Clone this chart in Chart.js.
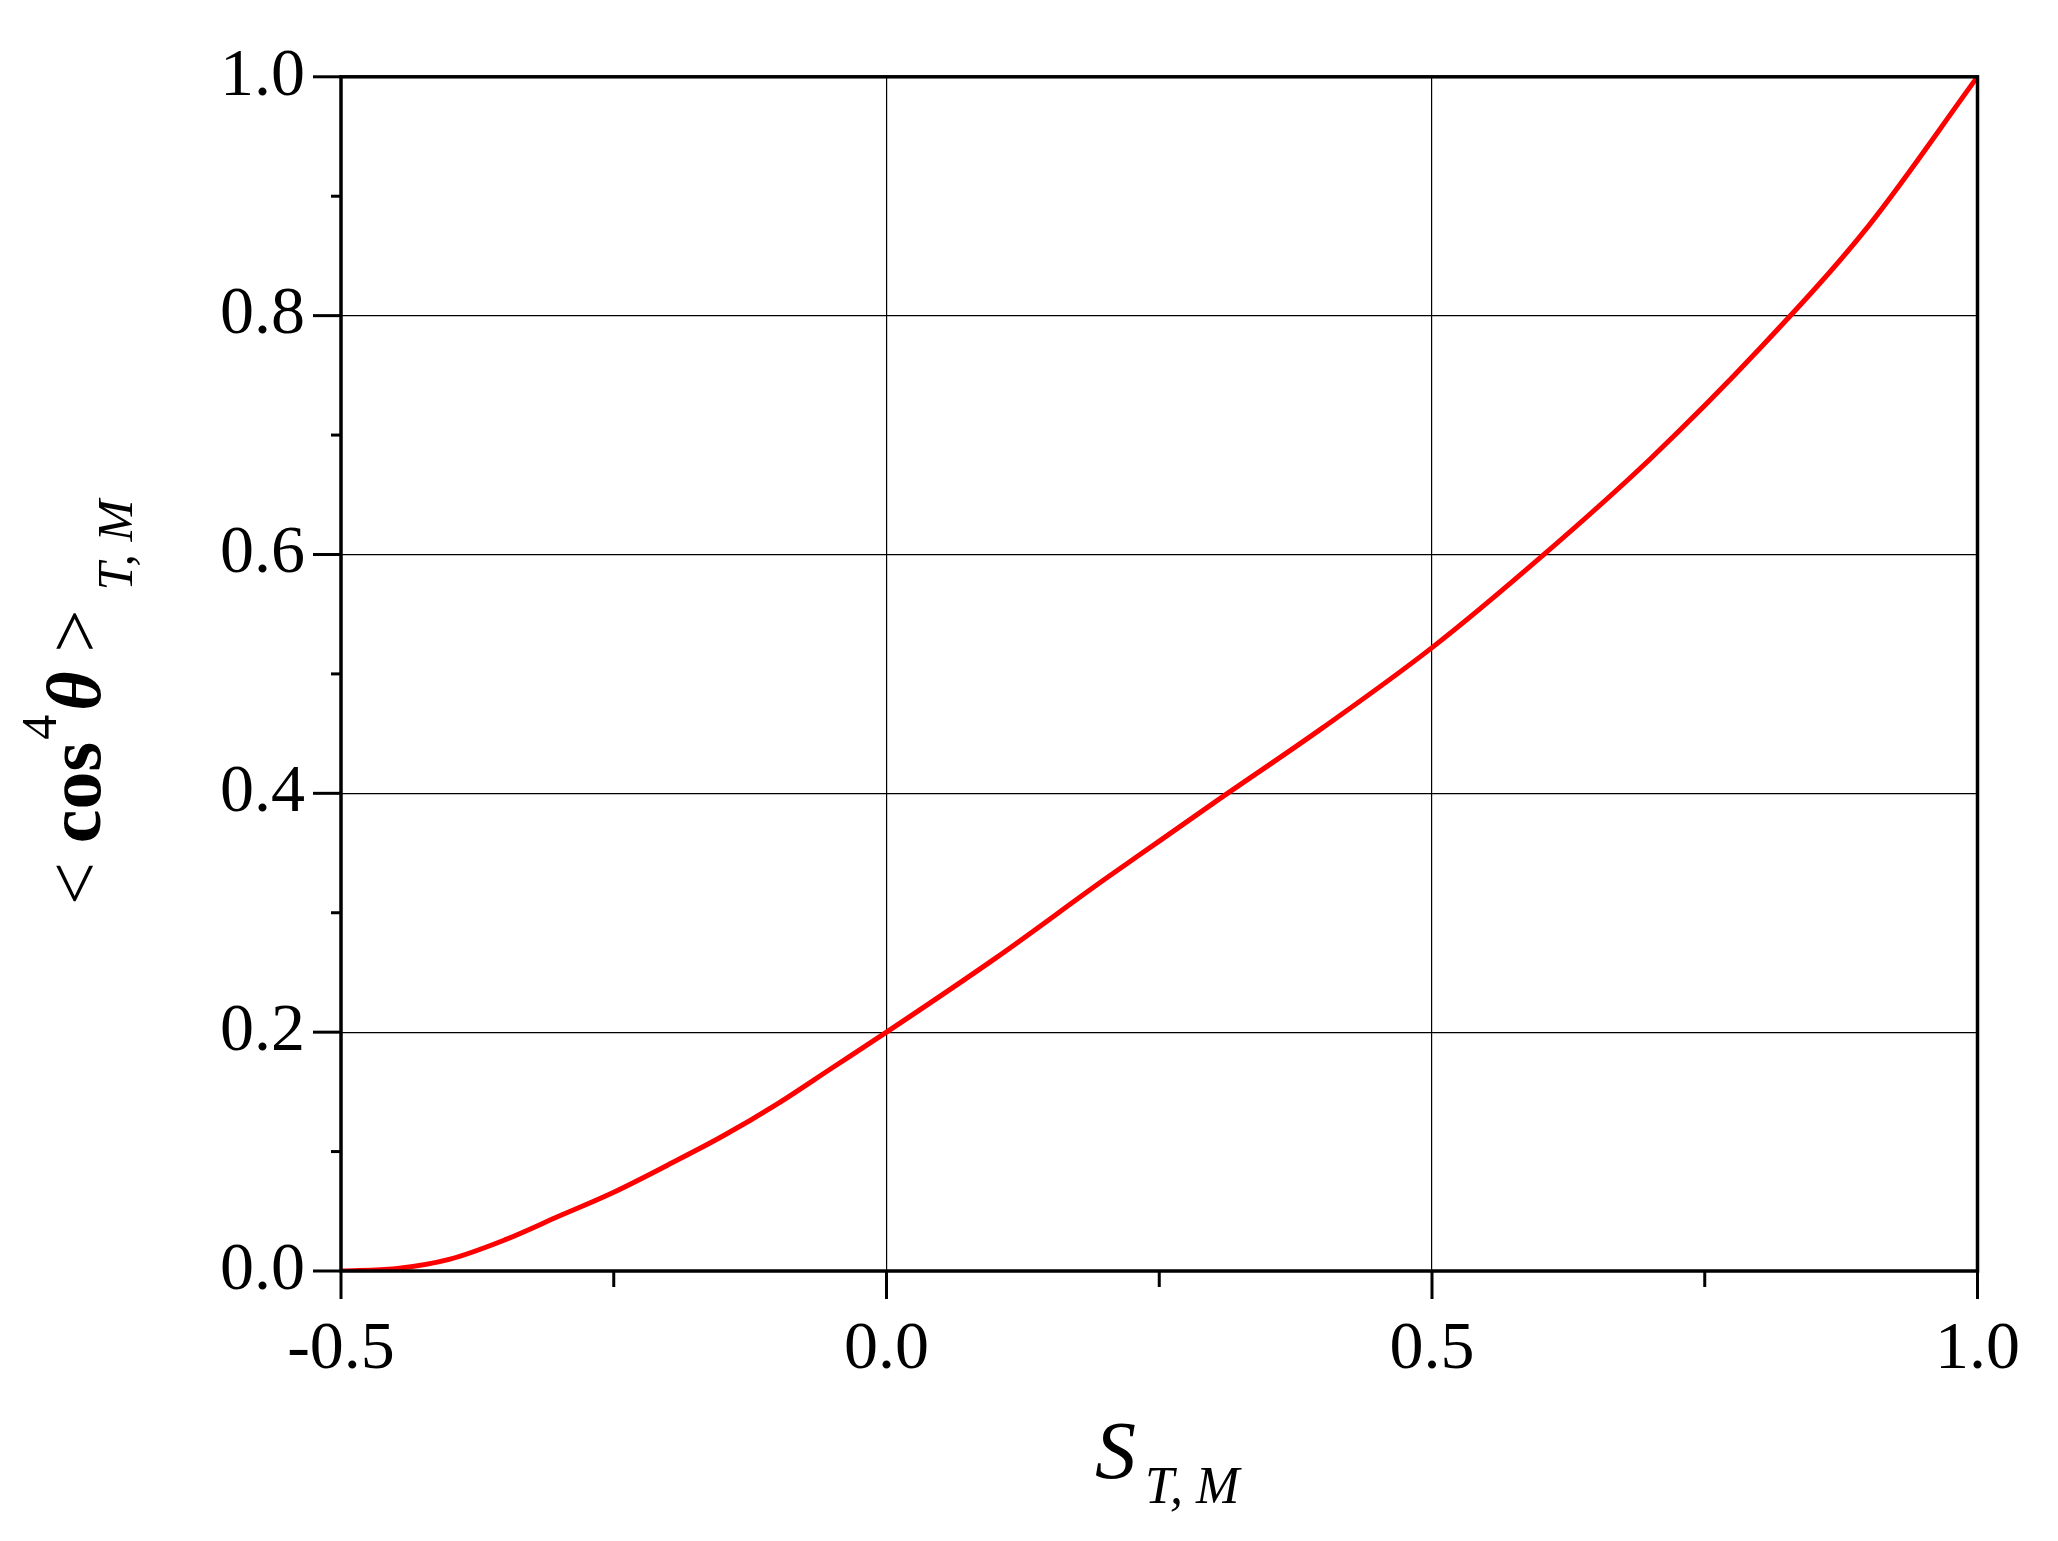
<!DOCTYPE html>
<html><head><meta charset="utf-8">
<script src="https://cdn.jsdelivr.net/npm/chart.js@4"></script>
<style>html,body{margin:0;padding:0;background:#fff}#w{width:2058px;height:1541px}</style>
</head><body><div id="w"><canvas id="c" width="2058" height="1541"></canvas></div>
<script>
const sValues = [-0.5,-0.45,-0.4,-0.35,-0.3,-0.25,-0.2,-0.15,-0.1,-0.05,0,0.1,0.2,0.25,0.3,0.4,0.5,0.6,0.7,0.8,0.9,1.0];
const cos4Values = [0,0.002,0.01,0.026,0.046,0.066,0.089,0.113,0.14,0.17,0.2,0.262,0.328,0.36,0.392,0.455,0.522,0.598,0.68,0.772,0.875,1.0];
const xTickLabels = ['-0.5','0.0','0.5','1.0'];
const yTickLabels = ['0.0','0.2','0.4','0.6','0.8','1.0'];
const F = '"Liberation Serif", "Times New Roman", serif';
const B=1271, L=341;
const deco = {
  id:'deco',
  afterDraw(ch){
    const c=ch.ctx,x=ch.scales.x,y=ch.scales.y,a=ch.chartArea;
    c.save();c.strokeStyle='#000';c.lineWidth=3.5;
    c.strokeRect(a.left,a.top,a.right-a.left,a.bottom-a.top);
    c.lineWidth=3;
    for(let v=-0.5;v<=1.0001;v+=0.25){const p=x.getPixelForValue(v);const maj=Math.abs(v*2-Math.round(v*2))<1e-6;c.beginPath();c.moveTo(p,a.bottom);c.lineTo(p,a.bottom+(maj?28:16));c.stroke();}
    for(let v=0;v<=1.0001;v+=0.1){const p=y.getPixelForValue(v);const maj=Math.round(v*10)%2===0;c.beginPath();c.moveTo(a.left,p);c.lineTo(a.left-(maj?28:10),p);c.stroke();}
    c.fillStyle='#000';
    c.textBaseline='alphabetic';c.textAlign='left';
    c.font='italic 82px '+F;c.fillText('S',1095,1478);
    c.font='italic 52px '+F;c.fillText('T, M',1145,1503);
    c.translate(100,0);c.rotate(-Math.PI/2);
    let xx=-905;
    c.font='76px '+F;c.fillText('<',xx,0);xx+=c.measureText('< ').width;
    c.font='bold 76px '+F;c.fillText('cos',xx,0);xx+=c.measureText('cos').width;
    c.font='50px '+F;c.fillText('4',xx+2,-44);xx+=c.measureText('4').width+6;
    c.font='bold italic 76px '+F;c.fillText('θ',xx,0);xx+=c.measureText('θ ').width;
    c.font='76px '+F;c.fillText('>',xx,0);xx+=c.measureText('> ').width;
    c.font='italic 50px '+F;c.fillText('T, M',xx,32);
    c.restore();
  }
};
new Chart(document.getElementById('c'),{
  type:'line',
  data:{datasets:[{data:sValues.map((s,i)=>({x:s,y:cos4Values[i]})),borderColor:'#ff0000',borderWidth:5,pointRadius:0,tension:0.4,cubicInterpolationMode:'monotone',fill:false}]},
  options:{responsive:false,animation:false,devicePixelRatio:1,
    layout:{padding:{left:0,right:53,top:31,bottom:0}},
    plugins:{legend:{display:false},tooltip:{enabled:false}},
    scales:{
      x:{type:'linear',min:-0.5,max:1.0,afterBuildTicks(s){s.ticks=xTickLabels.map(t=>({value:parseFloat(t)}));},
        afterFit(s){s.height=1541-B;},
        ticks:{callback:(v)=>xTickLabels.find(t=>Math.abs(parseFloat(t)-v)<1e-6)||'',font:{family:F,size:68},color:'#000',padding:38,maxRotation:0},
        grid:{color:'#000',lineWidth:1.2,drawTicks:false},border:{display:false}},
      y:{type:'linear',min:0,max:1.0,afterBuildTicks(s){s.ticks=yTickLabels.map(t=>({value:parseFloat(t)}));},
        afterFit(s){s.width=L;},
        ticks:{callback:(v)=>yTickLabels.find(t=>Math.abs(parseFloat(t)-v)<1e-6)||'',font:{family:F,size:68},color:'#000',padding:36},
        grid:{color:'#000',lineWidth:1.2,drawTicks:false},border:{display:false}}
    }},
  plugins:[deco]
});
</script></body></html>
